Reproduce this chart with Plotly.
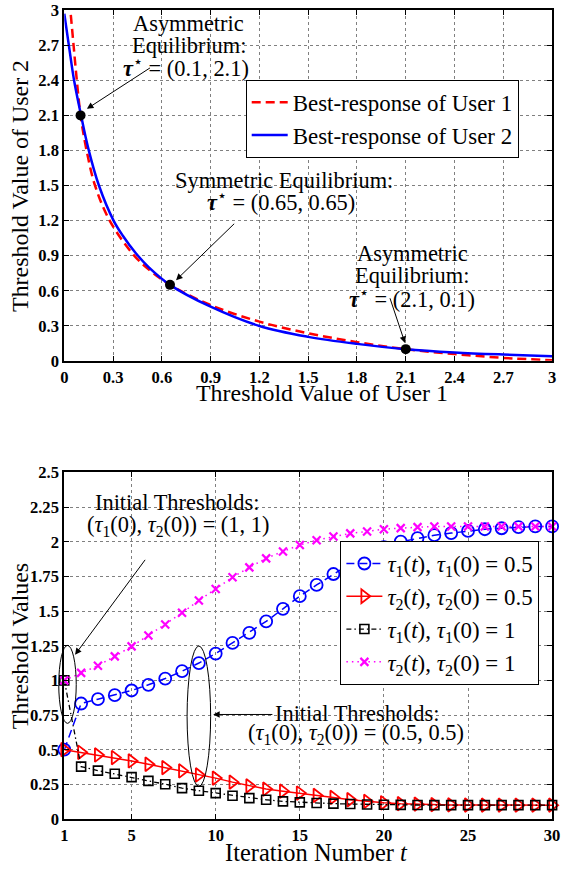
import plotly.graph_objects as go

# ---------------- data: top panel (best responses) ----------------
br2_x = [0.0, 0.03, 0.06, 0.1, 0.147, 0.213, 0.303, 0.36, 0.44, 0.52, 0.65, 0.9, 1.2, 1.5, 1.8, 2.1, 2.4, 2.7, 3.0]
br2_y = [2.97, 2.68, 2.4, 2.12, 1.82, 1.5, 1.2, 1.07, 0.92, 0.80, 0.65, 0.463, 0.298, 0.205, 0.145, 0.10, 0.072, 0.054, 0.04]

br1_x = [0.04, 0.057, 0.077, 0.1, 0.137, 0.189, 0.279, 0.43, 0.53, 0.65, 0.9, 1.2, 1.5, 1.8, 2.1, 2.4, 2.7, 3.0]
br1_y = [2.96, 2.7, 2.4, 2.1, 1.8, 1.5, 1.2, 0.9, 0.77, 0.65, 0.477, 0.335, 0.236, 0.16, 0.1, 0.058, 0.025, 0.005]

eq_x = [0.1, 0.65, 2.1]
eq_y = [2.1, 0.65, 0.1]

top_ticks = [0, 0.3, 0.6, 0.9, 1.2, 1.5, 1.8, 2.1, 2.4, 2.7, 3]
top_ticktext = ["0", "0.3", "0.6", "0.9", "1.2", "1.5", "1.8", "2.1", "2.4", "2.7", "3"]

# ---------------- data: bottom panel (iterations) ----------------
t = list(range(1, 31))
tau1_a = [0.5, 0.833, 0.864, 0.893, 0.927, 0.968, 1.013, 1.066, 1.125, 1.193,
          1.27, 1.343, 1.425, 1.516, 1.607, 1.688, 1.767, 1.84, 1.905, 1.96,
          2.0, 2.026, 2.047, 2.062, 2.078, 2.09, 2.097, 2.105, 2.11, 2.11]
tau2_a = [0.5, 0.481, 0.462, 0.443, 0.419, 0.395, 0.371, 0.347, 0.318, 0.295,
          0.266, 0.239, 0.216, 0.201, 0.187, 0.170, 0.156, 0.139, 0.127, 0.117,
          0.111, 0.107, 0.104, 0.102, 0.101, 0.1, 0.1, 0.1, 0.1, 0.1]
tau1_b = [1.0, 0.378, 0.349, 0.326, 0.302, 0.275, 0.251, 0.223, 0.204, 0.187,
          0.168, 0.151, 0.139, 0.127, 0.12, 0.115, 0.111, 0.108, 0.105, 0.103,
          0.102, 0.101, 0.1, 0.1, 0.1, 0.1, 0.1, 0.1, 0.1, 0.1]
tau2_b = [1.0, 1.054, 1.106, 1.173, 1.245, 1.324, 1.403, 1.487, 1.576, 1.659,
          1.743, 1.815, 1.88, 1.93, 1.976, 2.011, 2.038, 2.06, 2.074, 2.09,
          2.098, 2.105, 2.11, 2.11, 2.11, 2.11, 2.11, 2.11, 2.11, 2.11]

bot_xticks = [1, 5, 10, 15, 20, 25, 30]
bot_yticks = [0, 0.25, 0.5, 0.75, 1, 1.25, 1.5, 1.75, 2, 2.25, 2.5]
bot_yticktext = ["0", "0.25", "0.5", "0.75", "1", "1.25", "1.5", "1.75", "2", "2.25", "2.5"]

# ---------------- layout geometry ----------------
W, H = 565, 870
# the photographed page comes out slightly shrunk and offset; place things so the
# photo lands on the target pixel positions
OX, OY, S = 2.5, 7.8, 0.982
def fx(p):
    return min((p - OX) / S, 560)
def fy(p):
    return (p - OY) / S

XDOM = [fx(63) / W, fx(561) / W]
YDOM_TOP = [1 - fy(361) / H, 1 - fy(9) / H]
YDOM_BOT = [1 - fy(821) / H, 1 - fy(473) / H]
XR_TOP, YR_TOP = [0, 3], [0, 3]
XR_BOT, YR_BOT = [1, 30], [0, 2.5]

SERIF = "Liberation Serif"
def fs(v):
    return round(v / S, 2)
TXT = fs(22)
LEG = fs(22.5)
TICKFONT = dict(family=SERIF, size=fs(16.3), color="black", weight="bold")

fig = go.Figure()

fig.add_trace(go.Scatter(x=br1_x, y=br1_y, mode="lines", name="Best-response of User 1",
                         line=dict(color="#ff0000", width=2.5, dash="9px,5px", shape="spline"),
                         xaxis="x", yaxis="y", legend="legend", legendgroup="a"))
fig.add_trace(go.Scatter(x=br2_x, y=br2_y, mode="lines", name="Best-response of User 2",
                         line=dict(color="#0000ff", width=2.5, shape="spline"),
                         xaxis="x", yaxis="y", legend="legend", legendgroup="b"))
fig.add_trace(go.Scatter(x=eq_x, y=eq_y, mode="markers", showlegend=False,
                         marker=dict(color="black", size=10),
                         xaxis="x", yaxis="y"))

fig.add_trace(go.Scatter(x=t, y=tau1_a, mode="lines+markers",
                         name="<i>τ</i><sub>1</sub>(<i>t</i>), <i>τ</i><sub>1</sub>(0) = 0.5",
                         line=dict(color="#0000ff", width=1.5, dash="8px,5px"),
                         marker=dict(symbol="circle-open", size=12, line=dict(width=1.8, color="#0000ff")),
                         cliponaxis=False, xaxis="x2", yaxis="y2", legend="legend2", legendgroup="c"))
fig.add_trace(go.Scatter(x=t, y=tau2_a, mode="lines+markers",
                         name="<i>τ</i><sub>2</sub>(<i>t</i>), <i>τ</i><sub>2</sub>(0) = 0.5",
                         line=dict(color="#ff0000", width=1.5),
                         marker=dict(symbol="triangle-right-open", size=12, line=dict(width=1.8, color="#ff0000")),
                         cliponaxis=False, xaxis="x2", yaxis="y2", legend="legend2", legendgroup="d"))
fig.add_trace(go.Scatter(x=t, y=tau1_b, mode="lines+markers",
                         name="<i>τ</i><sub>1</sub>(<i>t</i>), <i>τ</i><sub>1</sub>(0) = 1",
                         line=dict(color="black", width=1.3, dash="5px,3px,1.5px,3px"),
                         marker=dict(symbol="square-open", size=9, line=dict(width=1.6, color="black")),
                         cliponaxis=False, xaxis="x2", yaxis="y2", legend="legend2", legendgroup="e"))
fig.add_trace(go.Scatter(x=t, y=tau2_b, mode="lines+markers",
                         name="<i>τ</i><sub>2</sub>(<i>t</i>), <i>τ</i><sub>2</sub>(0) = 1",
                         line=dict(color="#ff00ff", width=1.5, dash="1.5px,4px"),
                         marker=dict(symbol="x-thin", size=8, line=dict(width=2.2, color="#ff00ff")),
                         cliponaxis=False, xaxis="x2", yaxis="y2", legend="legend2", legendgroup="f"))

axis_common = dict(showline=True, linecolor="black", linewidth=2, mirror="ticks",
                   ticks="inside", ticklen=5, tickwidth=1, tickcolor="black",
                   showgrid=True, gridcolor="#808080", griddash="dot", gridwidth=1,
                   zeroline=False, tickfont=TICKFONT)

fig.update_layout(
    width=W, height=H, margin=dict(l=0, r=0, t=0, b=0),
    paper_bgcolor="white", plot_bgcolor="white",
    xaxis=dict(domain=XDOM, range=XR_TOP, anchor="y", tickvals=top_ticks, ticktext=top_ticktext, **axis_common),
    yaxis=dict(domain=YDOM_TOP, range=YR_TOP, anchor="x", tickvals=top_ticks, ticktext=top_ticktext, **axis_common),
    xaxis2=dict(domain=XDOM, range=XR_BOT, anchor="y2", tickvals=bot_xticks, **axis_common),
    yaxis2=dict(domain=YDOM_BOT, range=YR_BOT, anchor="x2", tickvals=bot_yticks, ticktext=bot_yticktext, **axis_common),
    legend=dict(x=fx(245) / W, y=1 - fy(79) / H, xanchor="left", yanchor="top",
                bgcolor="white", bordercolor="black", borderwidth=1, itemwidth=36,
                font=dict(family=SERIF, size=LEG, color="black"), tracegroupgap=0),
    legend2=dict(x=fx(340) / W, y=1 - fy(542) / H, xanchor="left", yanchor="top",
                 bgcolor="white", bordercolor="black", borderwidth=1, itemwidth=36,
                 font=dict(family=SERIF, size=LEG, color="black"), tracegroupgap=0),
    showlegend=True,
)

ann = []
def text(x, y, s, xref="x", yref="y", size=TXT, angle=0):
    ann.append(dict(x=x, y=y, xref=xref, yref=yref, text=s, showarrow=False,
                    xanchor="center", yanchor="middle", textangle=angle,
                    font=dict(family=SERIF, size=size, color="black")))

def arrow(x, y, ax, ay, xref="x", yref="y"):
    ann.append(dict(x=x, y=y, ax=ax, ay=ay, xref=xref, yref=yref, axref=xref, ayref=yref,
                    text="", showarrow=True, arrowhead=2, arrowsize=1.3, arrowwidth=1,
                    arrowcolor="black"))

TAU = "<b><i>τ</i></b><sup>⋆</sup>"
text(0.765, 2.889, "Asymmetric")
text(0.765, 2.702, "Equilibrium:")
text(0.75, 2.514, TAU + " = (0.1, 2.1)")
arrow(0.139, 2.156, 0.536, 2.514)

text(1.35, 1.543, "Symmetric Equilibrium:")
text(1.33, 1.364, TAU + " = (0.65, 0.65)")
arrow(0.687, 0.690, 1.054, 1.185)

text(2.139, 0.920, "Asymmetric")
text(2.139, 0.733, "Equilibrium:")
text(2.139, 0.537, TAU + " = (2.1, 0.1)")
arrow(2.095, 0.153, 2.0, 0.548)

text(7.72, 2.284, "Initial Thresholds:", "x2", "y2")
text(7.75, 2.112, "(<i>τ</i><sub>1</sub>(0), <i>τ</i><sub>2</sub>(0)) = (1, 1)", "x2", "y2")
arrow(1.64, 1.185, 5.87, 1.88, "x2", "y2")

text(18.4, 0.762, "Initial Thresholds:", "x2", "y2")
text(18.35, 0.611, "(<i>τ</i><sub>1</sub>(0), <i>τ</i><sub>2</sub>(0)) = (0.5, 0.5)", "x2", "y2")
arrow(9.85, 0.754, 13.46, 0.754, "x2", "y2")

text(fx(322) / W, 1 - fy(393) / H, "Threshold Value of User 1", "paper", "paper", size=fs(23.5))
text(fx(18) / W, 1 - fy(185) / H, "Threshold Value of User 2", "paper", "paper", size=fs(23.5), angle=-90)
text(fx(316) / W, 1 - fy(855) / H, "Iteration Number <i>t</i>", "paper", "paper", size=fs(24))
text(fx(18) / W, 1 - fy(647) / H, "Threshold Values", "paper", "paper", size=fs(23.5), angle=-90)

fig.update_layout(annotations=ann)

# ellipses (paper coordinates so they are not clipped at the axis)
def px_(v):
    return XDOM[0] + (v - XR_BOT[0]) / (XR_BOT[1] - XR_BOT[0]) * (XDOM[1] - XDOM[0])
def py_(v):
    return YDOM_BOT[0] + (v - YR_BOT[0]) / (YR_BOT[1] - YR_BOT[0]) * (YDOM_BOT[1] - YDOM_BOT[0])

for (x0, x1, y0, y1) in [(0.67, 1.71, 0.69, 1.252), (8.3, 9.7, 0.235, 1.248)]:
    fig.add_shape(type="circle", xref="paper", yref="paper",
                  x0=px_(x0), x1=px_(x1), y0=py_(y0), y1=py_(y1),
                  line=dict(color="black", width=1), fillcolor="rgba(0,0,0,0)")

fig.write_html("out.html")
